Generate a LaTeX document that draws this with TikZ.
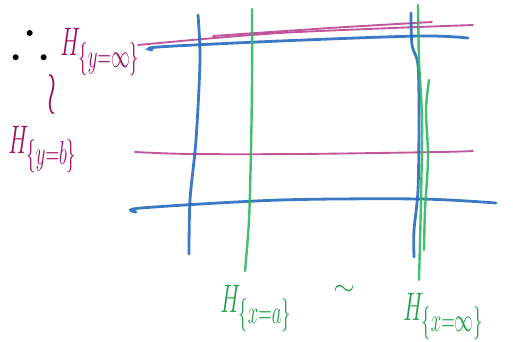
\documentclass[tikz,border=0pt]{standalone}
\usepackage{amsmath,amssymb}
\usetikzlibrary{positioning}
\DeclareMathSizes{28}{28}{21}{16}
\definecolor{penblue}{RGB}{40,105,190}
\definecolor{pengreen}{RGB}{45,185,95}
\definecolor{penmag}{RGB}{185,55,140}
\definecolor{inkmag}{RGB}{160,10,100}
\definecolor{inkgreen}{RGB}{30,160,70}
\newcommand{\handlab}[1]{\scalebox{0.68}[1.2]{$#1$}}
\tikzset{
  bline/.style = {penblue, line width=2.1pt, line cap=round, opacity=0.9},
  gline/.style = {pengreen, line width=1.8pt, line cap=round, opacity=0.9},
  mline/.style = {penmag, line width=1.4pt, line cap=round, opacity=0.85},
  mlab/.style  = {text=inkmag, inner sep=0pt, anchor=base west,
                  font=\fontsize{28}{32}\selectfont},
  glab/.style  = {text=inkgreen, inner sep=0pt, anchor=base west,
                  font=\fontsize{28}{32}\selectfont}
}

\begin{document}
\begin{tikzpicture}[x=0.75pt,y=-0.75pt]
  \useasboundingbox (0,0) rectangle (513,342);
  % ---- horizontal lines ----
  \draw[mline] plot[smooth] coordinates {(138,45) (280,33) (473,25)};
  \draw[mline] plot[smooth] coordinates {(213,36) (330,28) (432,22)};
  \draw[bline] plot[smooth] coordinates {(152,50) (158,47) (280,41) (420,36) (468,38)};
  \draw[mline] plot[smooth] coordinates {(135,152) (190,154) (300,154) (440,152) (473,151)};
  \draw[bline] plot[smooth] coordinates {(136,212) (141,208) (280,200) (420,199) (496,203)};

  % ---- vertical lines ----
  \draw[bline] plot[smooth] coordinates {(198,15) (200,60) (196,140) (190,200) (189,254)};
  \draw[gline] plot[smooth] coordinates {(252,9) (252,80) (251,150) (249,220) (245,271)};
  \draw[bline] plot[smooth] coordinates {(411,13) (412,45) (418,65) (419,120) (418,190) (414,230) (414,257)};
  \draw[gline] plot[smooth] coordinates {(418,5) (419,60) (422,120) (421,200) (419,280)};
  \draw[gline] plot[smooth] coordinates {(429,80) (426,110) (428,158) (425,210) (424,250)};

  % ---- labels ----
  \node[text=black, font=\fontsize{28}{32}\selectfont] (thf) at (30,37) {\scalebox{1.5}{$\therefore$}};
  \node[mlab] (hinf) at (60,56) {\handlab{H_{\{y=\infty\}}}};
  \node[text=inkmag, font=\fontsize{28}{32}\selectfont] (wr) at (52,95) {\scalebox{1}[1.8]{$\wr$}};
  \node[mlab] (hb) at (8,153) {\handlab{H_{\{y=b\}}}};
  \node[glab] (ha) at (220,312) {\handlab{H_{\{x=a\}}}};
  \node[text=inkgreen, font=\fontsize{20}{24}\selectfont] (sim) at (344,290) {$\sim$};
  \node[glab] (hxinf) at (403,320) {\handlab{H_{\{x=\infty\}}}};
\end{tikzpicture}
\end{document}
